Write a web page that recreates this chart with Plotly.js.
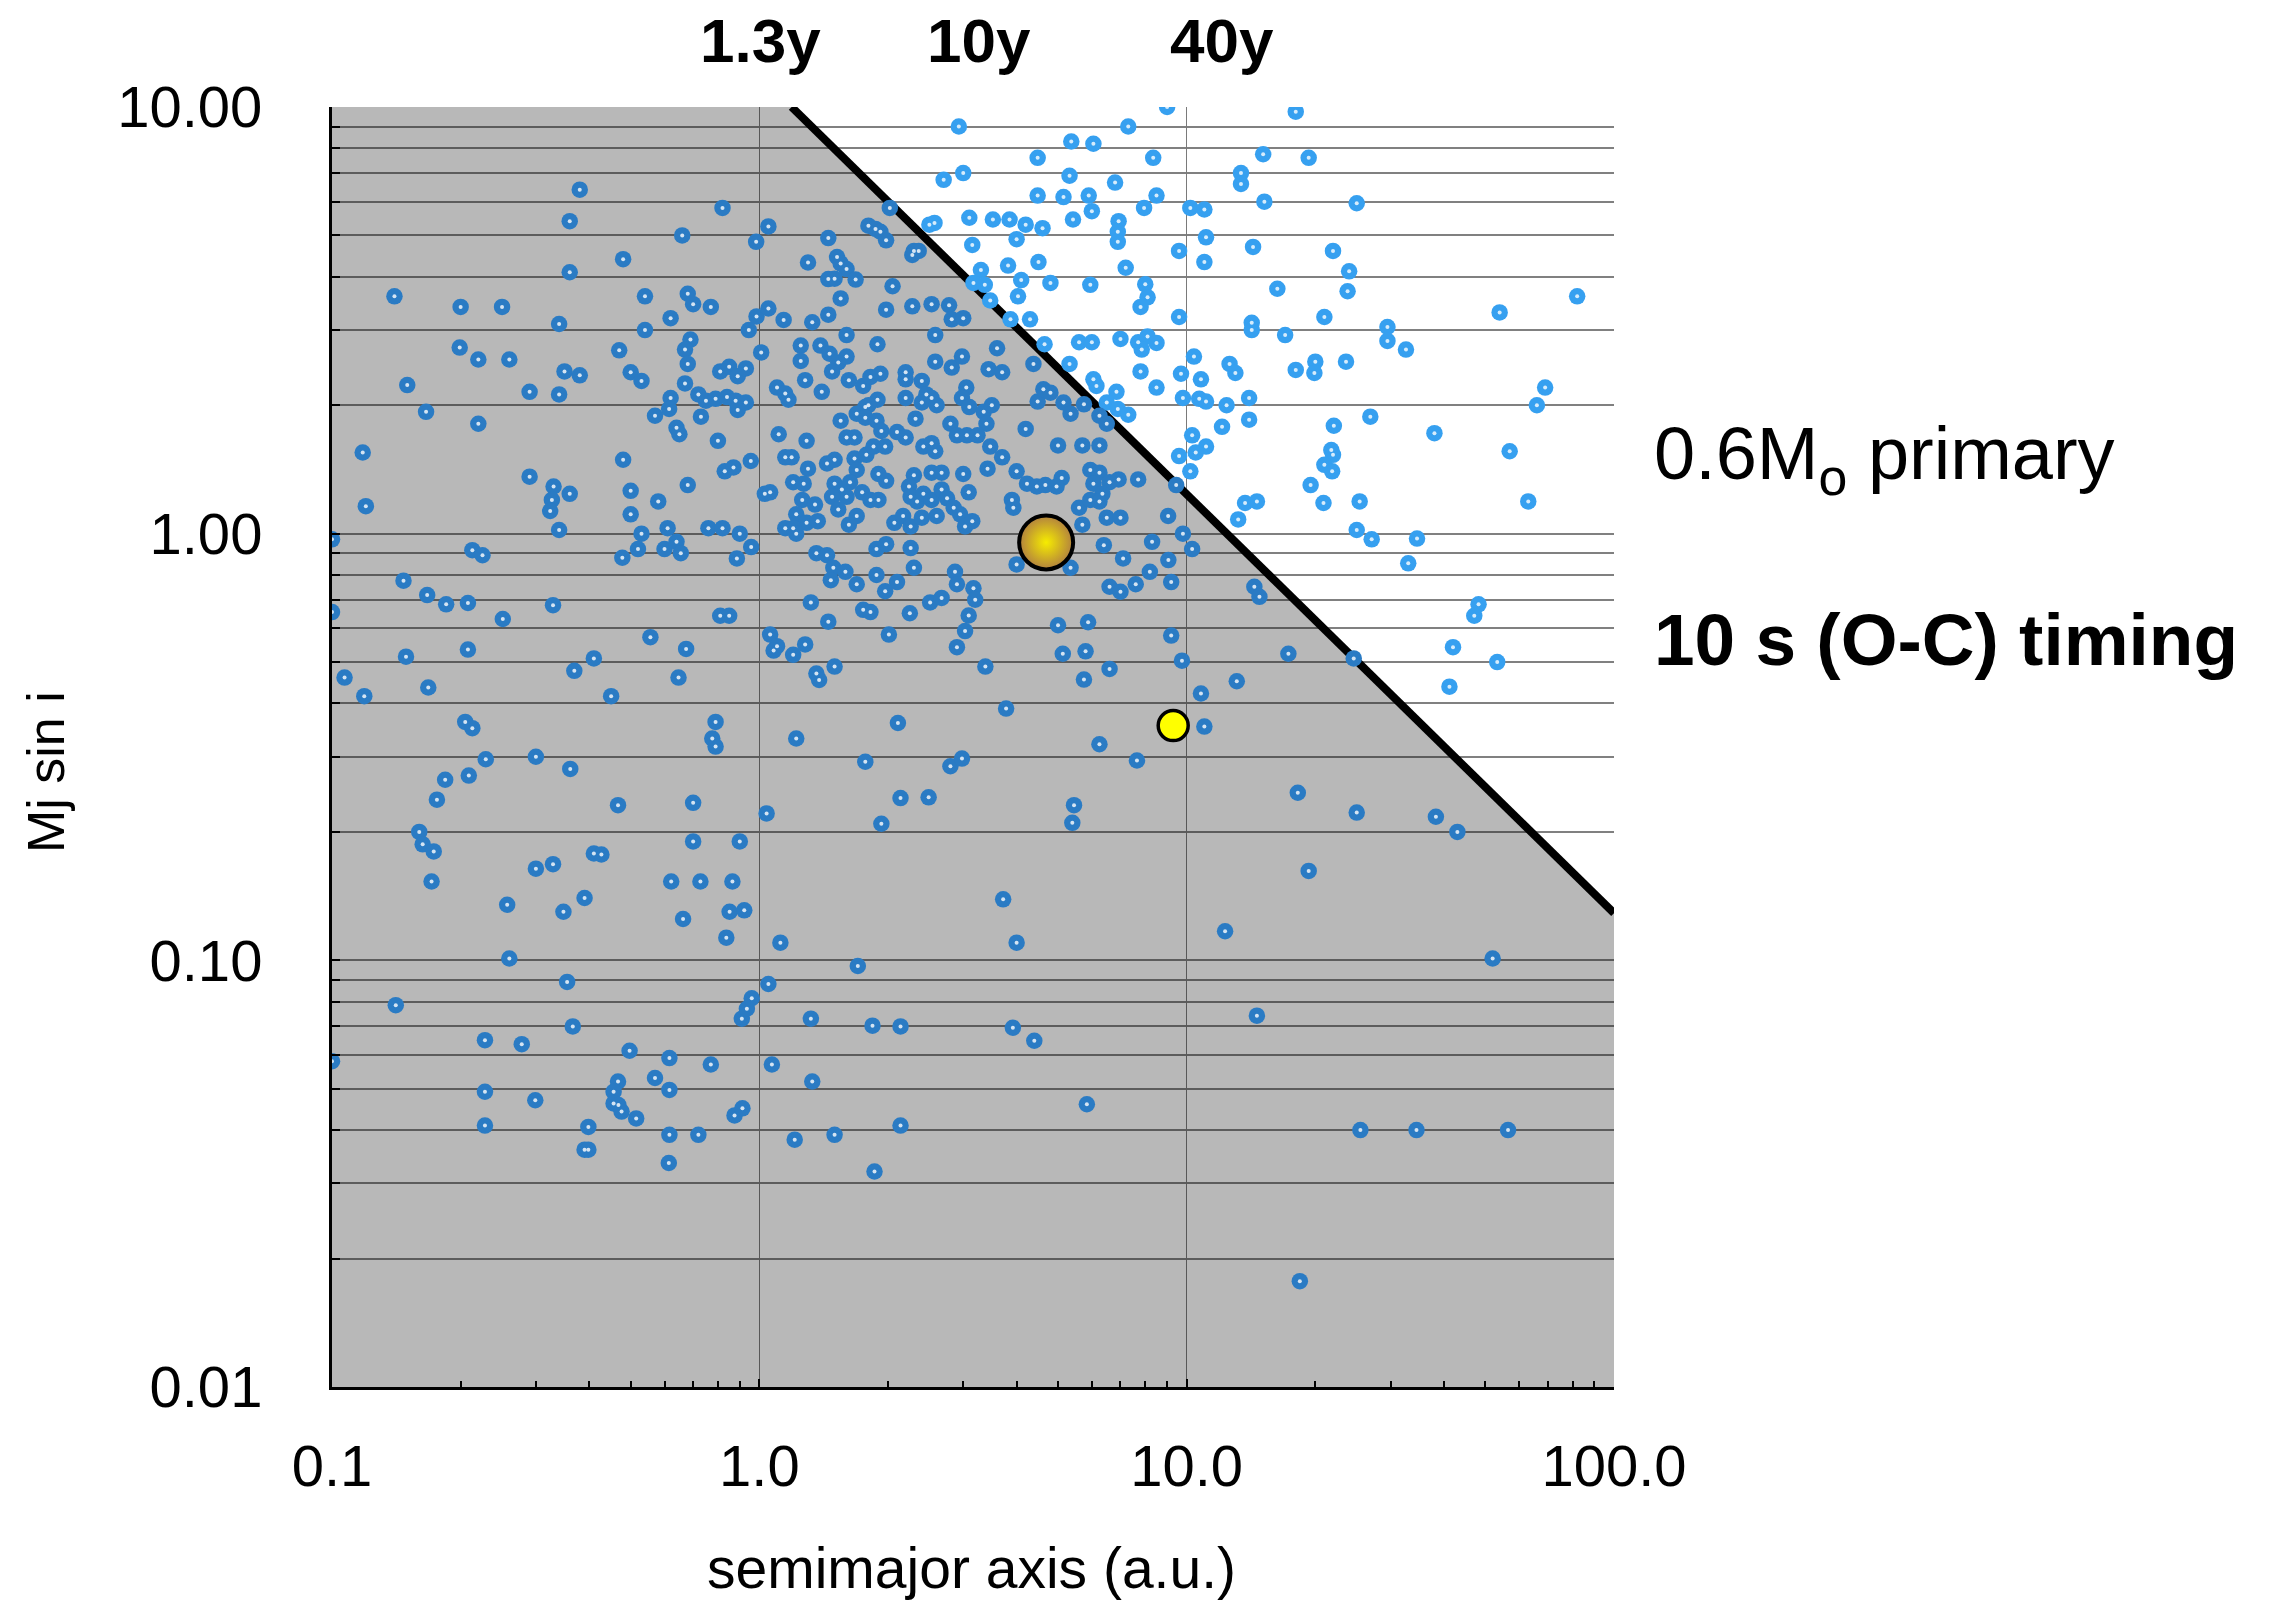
<!DOCTYPE html>
<html>
<head>
<meta charset="utf-8">
<script src="https://cdn.plot.ly/plotly-3.0.1.min.js"></script>
<style>
html,body{margin:0;padding:0;background:#ffffff;}
#chart{width:2271px;height:1603px;}
</style>
</head>
<body>
<div id="chart"></div>
<script>
// ---------------- DATA ----------------
// semimajor axis (a.u.) of known companions
const semimajorAxisAU = [
// a < 1 au, M > 1
0.38,0.36,0.82,0.66,0.48,0.36,0.14,0.20,0.25,0.54,0.68,0.70,0.77,0.62,0.34,0.54,0.945,0.69,0.67,0.68,0.67,0.199,0.22,0.26,0.47,0.35,0.38,0.50,0.53,0.81,0.85,0.89,0.93,0.15,0.166,0.29,0.34,0.22,0.62,0.615,0.57,0.72,0.75,0.79,0.84,0.88,0.89,0.93,0.73,0.64,0.65,0.80,0.118,0.12,0.29,0.33,0.36,0.327,0.324,0.48,0.50,0.58,0.50,0.68,0.83,0.87,0.955,0.34,0.61,0.76,0.82,
// 1-10 au, M > 1 (beyond timing limit)
9.0,2.93,7.3,5.37,6.05,4.48,8.35,3.0,2.7,5.32,6.8,4.48,5.15,5.9,8.5,6.0,7.95,3.1,3.52,3.85,4.2,4.6,5.42,6.93,6.9,6.9,2.5,2.57,3.15,4.0,9.6,3.82,4.5,7.2,3.3,4.1,4.8,5.95,8.0,8.1,7.8,4.03,3.17,3.37,3.47,3.87,4.3,9.6,4.65,5.6,6.0,7.0,7.7,8.1,8.5,7.85,5.32,7.8,9.7,6.05,6.15,8.5,6.85,9.8,6.5,6.9,7.3,9.6,9.45,
// 1-10 au, M > 1 (inside timing limit)
2.02,1.05,0.983,1.45,1.8,1.87,1.92,1.98,2.3,2.36,2.28,1.3,1.52,1.55,1.6,1.45,1.5,1.68,2.05,1.55,0.985,1.05,1.14,1.33,1.45,1.98,2.28,2.53,2.78,2.82,3.0,2.58,1.6,1.01,1.25,1.25,1.39,1.46,1.53,1.6,1.89,3.6,2.58,2.82,2.98,3.44,3.7,4.38,1.28,1.48,1.62,1.75,1.82,1.92,2.2,2.2,2.4,1.1,1.15,1.17,1.4,3.05,2.98,2.46,2.53,2.4,2.2,1.89,1.8,1.77,3.1,3.35,3.5,4.48,4.62,4.8,5.15,5.35,5.75,6.25,6.5,1.55,1.69,1.77,1.88,2.32,2.6,2.8,3.4,4.2,1.11,1.29,1.6,1.67,1.93,2.1,2.2,2.42,2.53,2.58,2.9,3.06,3.24,3.47,3.7,5.0,5.7,6.25,1.15,1.19,1.44,1.5,1.67,1.69,1.78,1.85,1.97,1.3,1.9,1.98,2.3,2.24,2.53,2.67,3.0,3.42,4.0,4.23,4.46,4.67,5.1,4.96,5.95,6.25,6.05,6.6,6.93,6.35,7.7,1.2,1.27,1.03,1.06,1.5,1.56,1.63,1.6,1.48,1.53,1.74,1.82,1.9,2.26,2.34,2.42,2.53,2.67,2.75,2.85,3.09,3.9,3.93,1.26,1.35,1.22,1.29,1.37,1.15,1.2,1.62,1.69,2.07,2.17,2.26,2.4,2.6,2.95,3.03,3.15,5.6,5.95,6.25,6.5,7.0,5.7,9.05,
// > 10 au, M > 1
18,15.1,19.3,13.4,13.4,15.2,25,10.2,11.0,11.1,14.3,22,11.0,24,16.3,23.8,82,54,21,14.2,14.2,17,29.5,29.5,32.6,10.4,12.6,13,18,20,19.9,23.6,10.8,10.7,11.1,12.4,14.0,14.0,12.1,69,66,26.9,22.1,38,57,21.8,22,21,21.9,10.3,11.1,10.5,10.2,19.5,20.9,25.4,63,13.7,14.6,13.2,25,
// a < 1 au, 0.1 < M < 1
0.1,0.213,0.225,0.478,0.52,0.53,0.6,0.64,0.655,0.886,0.9,0.957,0.147,0.167,0.185,0.208,0.1,0.251,0.329,0.81,0.85,0.556,0.674,0.149,0.208,0.41,0.369,0.647,0.107,0.119,0.168,0.45,0.79,0.776,0.79,0.205,0.213,0.229,0.3,0.361,0.209,0.184,0.176,0.467,0.7,0.16,0.163,0.173,0.7,0.9,0.41,0.427,0.3,0.329,0.171,0.622,0.728,0.865,0.39,0.257,0.348,0.663,0.852,0.922,0.837,0.26,
// 1-10 au, 0.1 < M < 1
1.22,1.36,1.44,1.49,1.59,1.47,1.69,1.88,1.98,1.88,2.1,1.97,2.26,2.3,2.25,1.32,1.45,1.75,1.82,2.51,2.67,2.87,2.9,3.17,3.2,3.09,3.03,2.9,2.01,1.06,1.1,1.08,1.2,1.28,1.36,1.38,1.5,3.38,4.0,5.35,6.4,8.3,7.1,9.06,8.2,9.2,7.6,6.6,7.0,9.8,5.0,5.88,5.13,5.8,5.75,6.6,9.2,9.75,3.78,2.11,1.22,1.77,2.8,2.98,6.25,7.65,2.14,2.49,1.04,1.93,5.45,5.4,3.72,1.12,4.0,
// > 10 au, 0.1 < M < 1
10.3,27.1,34.6,33,48.2,47.1,42,53.3,41.2,14.4,14.8,17.3,24.6,13.1,10.8,11.0,18.2,25,38.3,43,19.3,12.3,52,
// M < 0.1
0.355,0.141,0.366,0.228,0.278,0.1,0.497,0.616,0.77,0.57,0.467,0.456,0.456,0.468,0.476,0.515,0.616,0.228,0.299,0.228,0.398,0.39,0.398,0.616,0.72,0.614,0.875,0.913,0.91,0.935,0.96,
1.7,1.05,1.32,1.84,2.14,3.92,4.4,1.07,1.33,5.84,2.14,1.21,1.5,1.86,
14.6,25.5,34.5,56.5,18.4
];
// companion minimum mass (Jupiter masses)
const massMjSini = [
6.4,5.4,5.8,5.0,4.4,4.1,3.6,3.4,3.4,3.6,3.65,3.45,3.4,3.2,3.1,3.0,3.0,2.85,2.7,2.5,2.25,2.73,2.56,2.56,2.69,2.4,2.35,2.39,2.28,2.40,2.46,2.34,2.44,2.23,1.93,2.15,2.12,1.81,2.08,1.96,1.89,2.12,2.05,2.07,2.09,2.05,1.95,2.03,1.88,1.77,1.71,1.65,1.55,1.16,1.36,1.29,1.24,1.20,1.13,1.49,1.26,1.19,1.11,1.30,1.40,1.43,1.48,1.02,1.03,1.03,1.03,
10.0,9.0,9.0,8.3,8.2,7.6,7.6,7.0,6.75,6.9,6.65,6.2,6.15,6.2,6.2,5.7,5.8,5.5,5.45,5.45,5.3,5.2,5.45,5.4,5.1,4.83,5.3,5.35,4.75,4.9,4.6,4.25,4.33,4.2,4.15,3.93,3.87,3.83,3.84,3.58,3.4,3.6,3.87,3.83,3.52,3.18,3.18,3.22,2.78,2.81,2.81,2.86,2.81,2.9,2.8,2.7,2.5,2.4,2.37,2.3,2.22,2.2,2.15,2.08,2.03,1.96,1.9,1.52,1.3,
5.8,5.25,4.83,4.93,5.27,5.18,5.1,4.87,4.6,4.6,4.5,4.32,4.45,4.3,4.17,3.95,3.96,3.94,3.8,3.56,3.23,3.37,3.17,3.13,3.26,3.35,3.41,3.45,3.43,3.18,3.2,2.92,2.92,2.66,2.76,2.54,2.76,2.64,2.52,2.6,2.78,2.72,2.53,2.45,2.6,2.43,2.39,2.5,2.29,2.4,2.29,2.22,2.33,2.37,2.39,2.3,2.28,2.2,2.13,2.06,2.15,2.2,2.08,2.12,2.08,2.03,2.08,2.06,2.0,1.98,1.98,1.93,2.0,2.04,2.18,2.14,2.03,1.91,2.01,1.89,1.81,1.84,1.91,1.87,1.84,1.86,2.0,1.81,1.81,1.76,1.71,1.65,1.68,1.68,1.74,1.73,1.68,1.6,1.63,1.56,1.7,1.7,1.7,1.6,1.51,1.61,1.61,1.61,1.51,1.51,1.46,1.49,1.5,1.41,1.53,1.6,1.6,1.42,1.38,1.33,1.37,1.29,1.39,1.39,1.38,1.42,1.4,1.31,1.29,1.3,1.35,1.29,1.41,1.39,1.31,1.32,1.34,1.24,1.34,1.32,1.31,1.24,1.25,1.31,1.27,1.32,1.22,1.22,1.14,1.25,1.2,1.2,1.22,1.19,1.24,1.2,1.27,1.21,1.15,1.25,1.2,1.15,1.2,1.17,1.11,1.06,1.07,1.03,1.03,1.05,1.1,1.06,1.1,1.04,1.09,1.1,1.11,1.04,1.07,1.15,1.2,1.19,1.09,1.09,1.05,1.1,
9.75,7.75,7.6,7.0,6.6,6.0,5.95,5.8,5.75,4.95,4.7,4.6,4.33,4.12,3.75,3.7,3.6,3.3,3.22,3.12,3.0,2.92,3.05,2.83,2.7,2.6,2.5,2.38,2.42,2.53,2.38,2.53,2.3,2.07,2.04,2.0,2.08,1.85,1.78,2.2,2.0,1.88,1.79,1.72,1.56,1.57,1.53,1.45,1.4,1.7,1.6,1.55,1.4,1.3,1.18,1.19,1.19,1.18,1.19,1.08,1.02,
0.97,0.915,0.89,0.878,0.92,1.0,0.92,0.957,0.9,0.875,1.0,0.93,0.776,0.718,0.683,0.688,0.655,0.631,0.68,0.642,0.642,0.572,0.537,0.515,0.535,0.51,0.477,0.46,0.46,0.416,0.436,0.416,0.362,0.331,0.317,0.362,0.35,0.296,0.3,0.281,0.271,0.265,0.238,0.231,0.234,0.2,0.187,0.18,0.19,0.19,0.178,0.177,0.164,0.168,0.153,0.153,0.153,0.153,0.14,0.135,0.13,0.125,0.13,0.131,0.113,0.101,
1.0,0.9,0.89,0.832,0.814,0.778,0.761,0.92,0.945,0.8,0.77,0.733,0.925,0.832,0.651,0.69,0.622,0.663,0.655,0.69,0.707,0.814,0.761,0.745,0.70,0.643,0.591,0.542,0.58,0.58,0.545,0.532,0.52,0.55,0.47,0.454,0.488,0.488,0.847,0.832,0.94,0.957,0.875,0.867,0.814,0.77,0.761,0.751,0.731,1.0,0.61,0.62,0.523,0.53,0.455,0.482,0.577,0.504,0.389,0.36,0.331,0.292,0.285,0.297,0.321,0.294,0.24,0.241,0.221,0.209,0.231,0.21,0.139,0.11,0.11,
0.92,0.97,0.974,0.852,0.683,0.642,0.542,0.5,0.438,0.751,0.711,0.523,0.51,0.451,0.422,0.353,0.247,0.222,0.217,0.2,0.162,0.117,0.101,
0.089,0.0785,0.07,0.065,0.0636,0.058,0.0614,0.059,0.057,0.053,0.052,0.0492,0.0462,0.0458,0.0442,0.0426,0.0497,0.0492,0.047,0.041,0.0407,0.036,0.036,0.039,0.039,0.0335,0.0433,0.045,0.073,0.077,0.0815,
0.097,0.088,0.073,0.0703,0.07,0.0695,0.0648,0.057,0.052,0.046,0.041,0.038,0.039,0.032,
0.0742,0.04,0.04,0.04,0.0177
];
// Solar-system reference planets
const jupiterA = [4.69], jupiterM = [0.954];
const saturnA = [9.30], saturnM = [0.355];
// 10 s (O-C) timing detection limit for a 0.6 Msun primary (end points)
const limitA = [1.19, 100];
const limitM = [10, 0.129];
// axes
const xRangeVals = [0.1, 100];
const yRangeVals = [0.01, 10];
const xTickVals = [0.1, 1, 10, 100];
const xTickText = ['0.1', '1.0', '10.0', '100.0'];
const yTickVals = [0.01, 0.1, 1, 10];
const yTickText = ['0.01', '0.10', '1.00', '10.00'];
const periodLabels = ['1.3y', '10y', '40y'];
const noteLine1 = '0.6M<sub>o</sub> primary';
const noteLine2 = '<b>10 s (O-C) timing</b>';
const xTitle = 'semimajor axis (a.u.)';
const yTitle = 'Mj sin i';

// ---------------- BUILD ----------------
const FONT = 'Liberation Sans, Arial, Helvetica, sans-serif';
const slope = Math.log(limitM[1] / limitM[0]) / Math.log(limitA[1] / limitA[0]);
function limitAt(a) { return limitM[0] * Math.pow(a / limitA[0], slope); }
const LIGHT = '#36a0f0', DARK = '#2a7bc4';
const pointColors = semimajorAxisAU.map((a, i) => massMjSini[i] > limitAt(a) ? LIGHT : DARK);

function minorVals(lo, hi) {
  const out = [];
  for (let d = lo; d < hi; d *= 10) for (let m = 2; m <= 9; m++) out.push(+(m * d).toPrecision(3));
  return out;
}

const shade = {
  x: [xRangeVals[0], xRangeVals[0], limitA[0], limitA[1], xRangeVals[1]],
  y: [yRangeVals[0], yRangeVals[1], limitM[0], limitM[1], yRangeVals[0]],
  mode: 'lines', fill: 'toself', fillcolor: 'rgba(0,0,0,0.28)',
  line: {width: 0, color: 'rgba(0,0,0,0)'}, hoverinfo: 'skip'
};
const limitLine = {
  x: limitA, y: limitM, mode: 'lines',
  line: {color: '#000', width: 8}, hoverinfo: 'skip'
};
const companions = {
  x: semimajorAxisAU, y: massMjSini, mode: 'markers',
  marker: {size: 16.5, color: pointColors, line: {width: 0}}
};
const centres = {
  x: semimajorAxisAU, y: massMjSini, mode: 'markers', hoverinfo: 'skip',
  marker: {size: 4, color: 'rgba(255,255,255,0.8)', line: {width: 0}}
};
const jupiter = {
  x: jupiterA, y: jupiterM, mode: 'markers',
  marker: {size: 54, color: '#b2813f', line: {color: '#000', width: 4},
           gradient: {type: 'radial', color: '#f6ec00'}}
};
const saturn = {
  x: saturnA, y: saturnM, mode: 'markers',
  marker: {size: 30, color: '#ffff00', line: {color: '#000', width: 3.5}}
};

const L = 332, T = 107, W = 1282, H = 1280;
function px(x) { return (x - L) / W; }
function py(y) { return 1 - (y - T) / H; }

const annotations = [];
const periodX = [760, 979, 1222];
periodLabels.forEach((t, i) => annotations.push({
  text: '<b>' + t + '</b>', xref: 'paper', yref: 'paper', x: px(periodX[i]), y: py(40),
  xanchor: 'center', yanchor: 'middle', showarrow: false, font: {family: FONT, size: 62, color: '#000'}
}));
annotations.push({text: noteLine1, xref: 'paper', yref: 'paper', x: px(1652), y: py(459),
  xanchor: 'left', yanchor: 'middle', showarrow: false, font: {family: FONT, size: 74, color: '#000'}});
annotations.push({text: noteLine2, xref: 'paper', yref: 'paper', x: px(1652), y: py(639),
  xanchor: 'left', yanchor: 'middle', showarrow: false, font: {family: FONT, size: 73, color: '#000'}});
annotations.push({text: xTitle, xref: 'paper', yref: 'paper', x: px(971), y: py(1568),
  xanchor: 'center', yanchor: 'middle', showarrow: false, font: {family: FONT, size: 57, color: '#000'}});
annotations.push({text: yTitle, xref: 'paper', yref: 'paper', x: px(46), y: py(772), textangle: -90,
  xanchor: 'center', yanchor: 'middle', showarrow: false, font: {family: FONT, size: 52, color: '#000'}});

const layout = {
  width: 2271, height: 1603,
  margin: {l: L, r: 2271 - L - W, t: T, b: 1603 - T - H, pad: 0},
  paper_bgcolor: '#ffffff', plot_bgcolor: '#ffffff',
  showlegend: false,
  font: {family: FONT, color: '#000'},
  xaxis: {
    type: 'log', range: [Math.log10(xRangeVals[0]), Math.log10(xRangeVals[1])],
    tickmode: 'array', tickvals: xTickVals, ticktext: xTickText,
    tickfont: {family: FONT, size: 58, color: '#000'}, ticklabelstandoff: 26,
    ticks: 'inside', ticklen: 8, tickwidth: 2, tickcolor: '#000',
    showgrid: true, gridcolor: '#7a7a7a', gridwidth: 1.6,
    showline: true, linecolor: '#000', linewidth: 3, zeroline: false,
    minor: {tickmode: 'array', tickvals: minorVals(0.1, 100), ticks: 'inside', ticklen: 6,
            tickwidth: 2, tickcolor: '#000', showgrid: false},
    fixedrange: true
  },
  yaxis: {
    type: 'log', range: [Math.log10(yRangeVals[0]), Math.log10(yRangeVals[1])],
    tickmode: 'array', tickvals: yTickVals, ticktext: yTickText,
    tickfont: {family: FONT, size: 58, color: '#000'}, ticklabelstandoff: 55,
    ticks: 'inside', ticklen: 8, tickwidth: 2, tickcolor: '#000',
    showgrid: true, gridcolor: '#808080', gridwidth: 2,
    showline: true, linecolor: '#000', linewidth: 3, zeroline: false,
    minor: {tickmode: 'array', tickvals: minorVals(0.01, 10), ticks: 'inside', ticklen: 8,
            tickwidth: 2, tickcolor: '#000', showgrid: true, gridcolor: '#808080', gridwidth: 2},
    fixedrange: true
  },
  annotations: annotations
};

Plotly.newPlot('chart', [shade, limitLine, companions, centres, jupiter, saturn], layout,
  {displayModeBar: false, staticPlot: true});
</script>
</body>
</html>
